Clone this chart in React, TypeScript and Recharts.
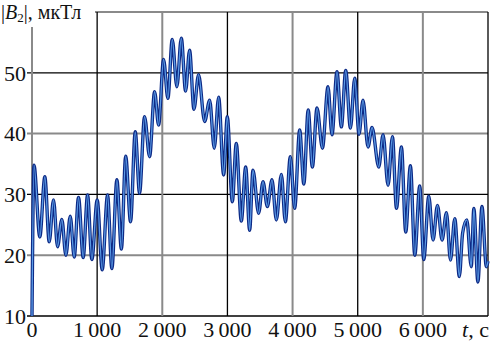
import React from "react";
import { LineChart, Line, XAxis, YAxis, CartesianGrid } from "recharts";

// time, s (local extrema of the oscillating trace)
const times = [
  0, 30, 120, 197, 264, 330, 392, 458, 520, 587, 648, 714, 786, 853, 919, 1001,
  1078, 1160, 1226, 1303, 1372, 1438, 1513, 1585, 1651, 1728, 1805, 1882, 1943,
  2020, 2086, 2153, 2224, 2292, 2358, 2419, 2486, 2557, 2650, 2727, 2798, 2865,
  2942, 2998, 3075, 3136, 3213, 3280, 3341, 3392, 3479, 3546, 3613, 3684, 3751,
  3828, 3889, 3966, 4032, 4109, 4173, 4240, 4304, 4375, 4458, 4544, 4605, 4682,
  4749, 4816, 4888, 4954, 5020, 5081, 5158, 5220, 5323, 5389, 5466, 5533, 5595,
  5671, 5737, 5809, 5876, 5952, 6014, 6091, 6157, 6224, 6295, 6362, 6424, 6490,
  6560, 6610, 6675, 6743, 6783, 6845, 6907, 6975, 7000,
];

// |B2|, мкТл
const field = [
  10, 34.8, 23.0, 32.9, 22.2, 29.1, 21.4, 25.9, 20.0, 26.4, 19.7, 29.5, 19.6,
  29.9, 19.3, 29.1, 17.6, 29.9, 17.8, 32.4, 21.0, 36.3, 25.5, 40.3, 30.2, 42.8,
  36.2, 46.9, 41.4, 52.2, 45.8, 55.5, 47.7, 55.7, 47.0, 53.7, 44.0, 49.7, 42.0,
  45.5, 37.6, 46.0, 33.2, 42.8, 28.8, 38.4, 25.6, 34.5, 24.1, 34.0, 26.9, 32.1,
  28.0, 32.4, 25.8, 33.3, 25.5, 36.2, 27.7, 40.6, 31.7, 43.9, 34.5, 44.2, 37.6,
  47.7, 39.8, 50.2, 41.1, 50.4, 40.9, 49.1, 39.9, 45.5, 37.8, 41.0, 34.5, 39.8,
  31.5, 39.5, 27.7, 37.8, 23.8, 34.7, 20.0, 31.4, 19.3, 29.7, 22.5, 28.2, 22.5,
  27.0, 19.2, 26.0, 16.5, 23.6, 25.8, 18.1, 27.7, 15.6, 28.0, 18.1, 19,
];

const xTicks = [0, 1000, 2000, 3000, 4000, 5000, 6000, 7000];
const yTicks = [10, 20, 30, 40, 50, 60];

const data = times.map((t, i) => ({ t, b: field[i] }));

const FONT = "'Liberation Serif', 'DejaVu Serif', serif";
const W = 490;
const H = 341;
const LEFT = 32;
const TOP = 12;
const BOTTOM = 316;
const RIGHT = 488;

const fmt = (v: number) =>
  v >= 1000 ? `${Math.floor(v / 1000)}\u2009${String(v % 1000).padStart(3, "0")}` : String(v);

const XTick = (props: any) => {
  const { x, y, payload } = props;
  if (payload.value === 7000) {
    return (
      <text x={W - 1} y={y} dy="0.71em" textAnchor="end" fontFamily={FONT} fontSize={22} fill="#111">
        <tspan fontStyle="italic">t</tspan>, с
      </text>
    );
  }
  return (
    <text x={x} y={y} dy="0.71em" textAnchor="middle" fontFamily={FONT} fontSize={22} fill="#111">
      {fmt(payload.value)}
    </text>
  );
};

const YTick = (props: any) => {
  const { x, y, payload } = props;
  if (payload.value === 60) return <g />;
  return (
    <text x={x} y={y} dy="0.35em" textAnchor="end" fontFamily={FONT} fontSize={22} fill="#111">
      {payload.value}
    </text>
  );
};

const HLine = (props: any) => {
  const { x1, x2, y1 } = props;
  const lvl = Math.round((BOTTOM - y1) / ((BOTTOM - TOP) / 5));
  const dark = lvl % 2 === 0;
  return (
    <line
      x1={x1 - 5}
      x2={x2}
      y1={y1}
      y2={y1}
      stroke={dark ? "#000" : "#8a8a8a"}
      strokeWidth={dark ? 1.3 : 2}
    />
  );
};

const VLine = (props: any) => {
  const { x1, y1, y2 } = props;
  const lvl = Math.round((x1 - LEFT) / ((RIGHT - LEFT) / 7));
  const dark = lvl % 2 === 1;
  return (
    <line
      x1={x1}
      x2={x1}
      y1={y1}
      y2={y2}
      stroke={dark ? "#000" : "#8a8a8a"}
      strokeWidth={dark ? 1.3 : 2}
    />
  );
};

export default function App() {
  return (
    <div style={{ position: "absolute", left: 0, top: 0, width: W, height: H, background: "#fff" }}>
      <LineChart
        width={W}
        height={H}
        data={data}
        margin={{ top: TOP, right: W - RIGHT, bottom: 0, left: 0 }}
      >
        <CartesianGrid horizontal={HLine} vertical={VLine} />
        <XAxis
          dataKey="t"
          type="number"
          domain={[0, 7000]}
          ticks={xTicks}
          axisLine={false}
          tickLine={false}
          tickSize={0}
          tickMargin={5}
          height={H - BOTTOM}
          tick={XTick}
          interval={0}
        />
        <YAxis
          type="number"
          domain={[10, 60]}
          ticks={yTicks}
          axisLine={false}
          tickLine={false}
          tickSize={0}
          tickMargin={6}
          width={LEFT}
          tick={YTick}
          interval={0}
        />
        <Line
          dataKey="b"
          type="monotone"
          stroke="#0d2a86"
          strokeWidth={3.4}
          dot={false}
          isAnimationActive={false}
        />
        <Line
          dataKey="b"
          type="monotone"
          stroke="#5b9be6"
          strokeWidth={1.3}
          dot={false}
          isAnimationActive={false}
        />
      </LineChart>
      <div
        style={{
          position: "absolute",
          left: 0,
          top: 0,
          width: 95,
          height: 27,
          background: "#fff",
          fontFamily: FONT,
          fontSize: 20,
          lineHeight: "24px",
          color: "#111",
          whiteSpace: "nowrap",
          paddingLeft: 1,
          boxSizing: "border-box",
        }}
      >
        |<i>B</i>
        <sub style={{ fontSize: 13, verticalAlign: "-3px" }}>2</sub>|, мкТл
      </div>
    </div>
  );
}
